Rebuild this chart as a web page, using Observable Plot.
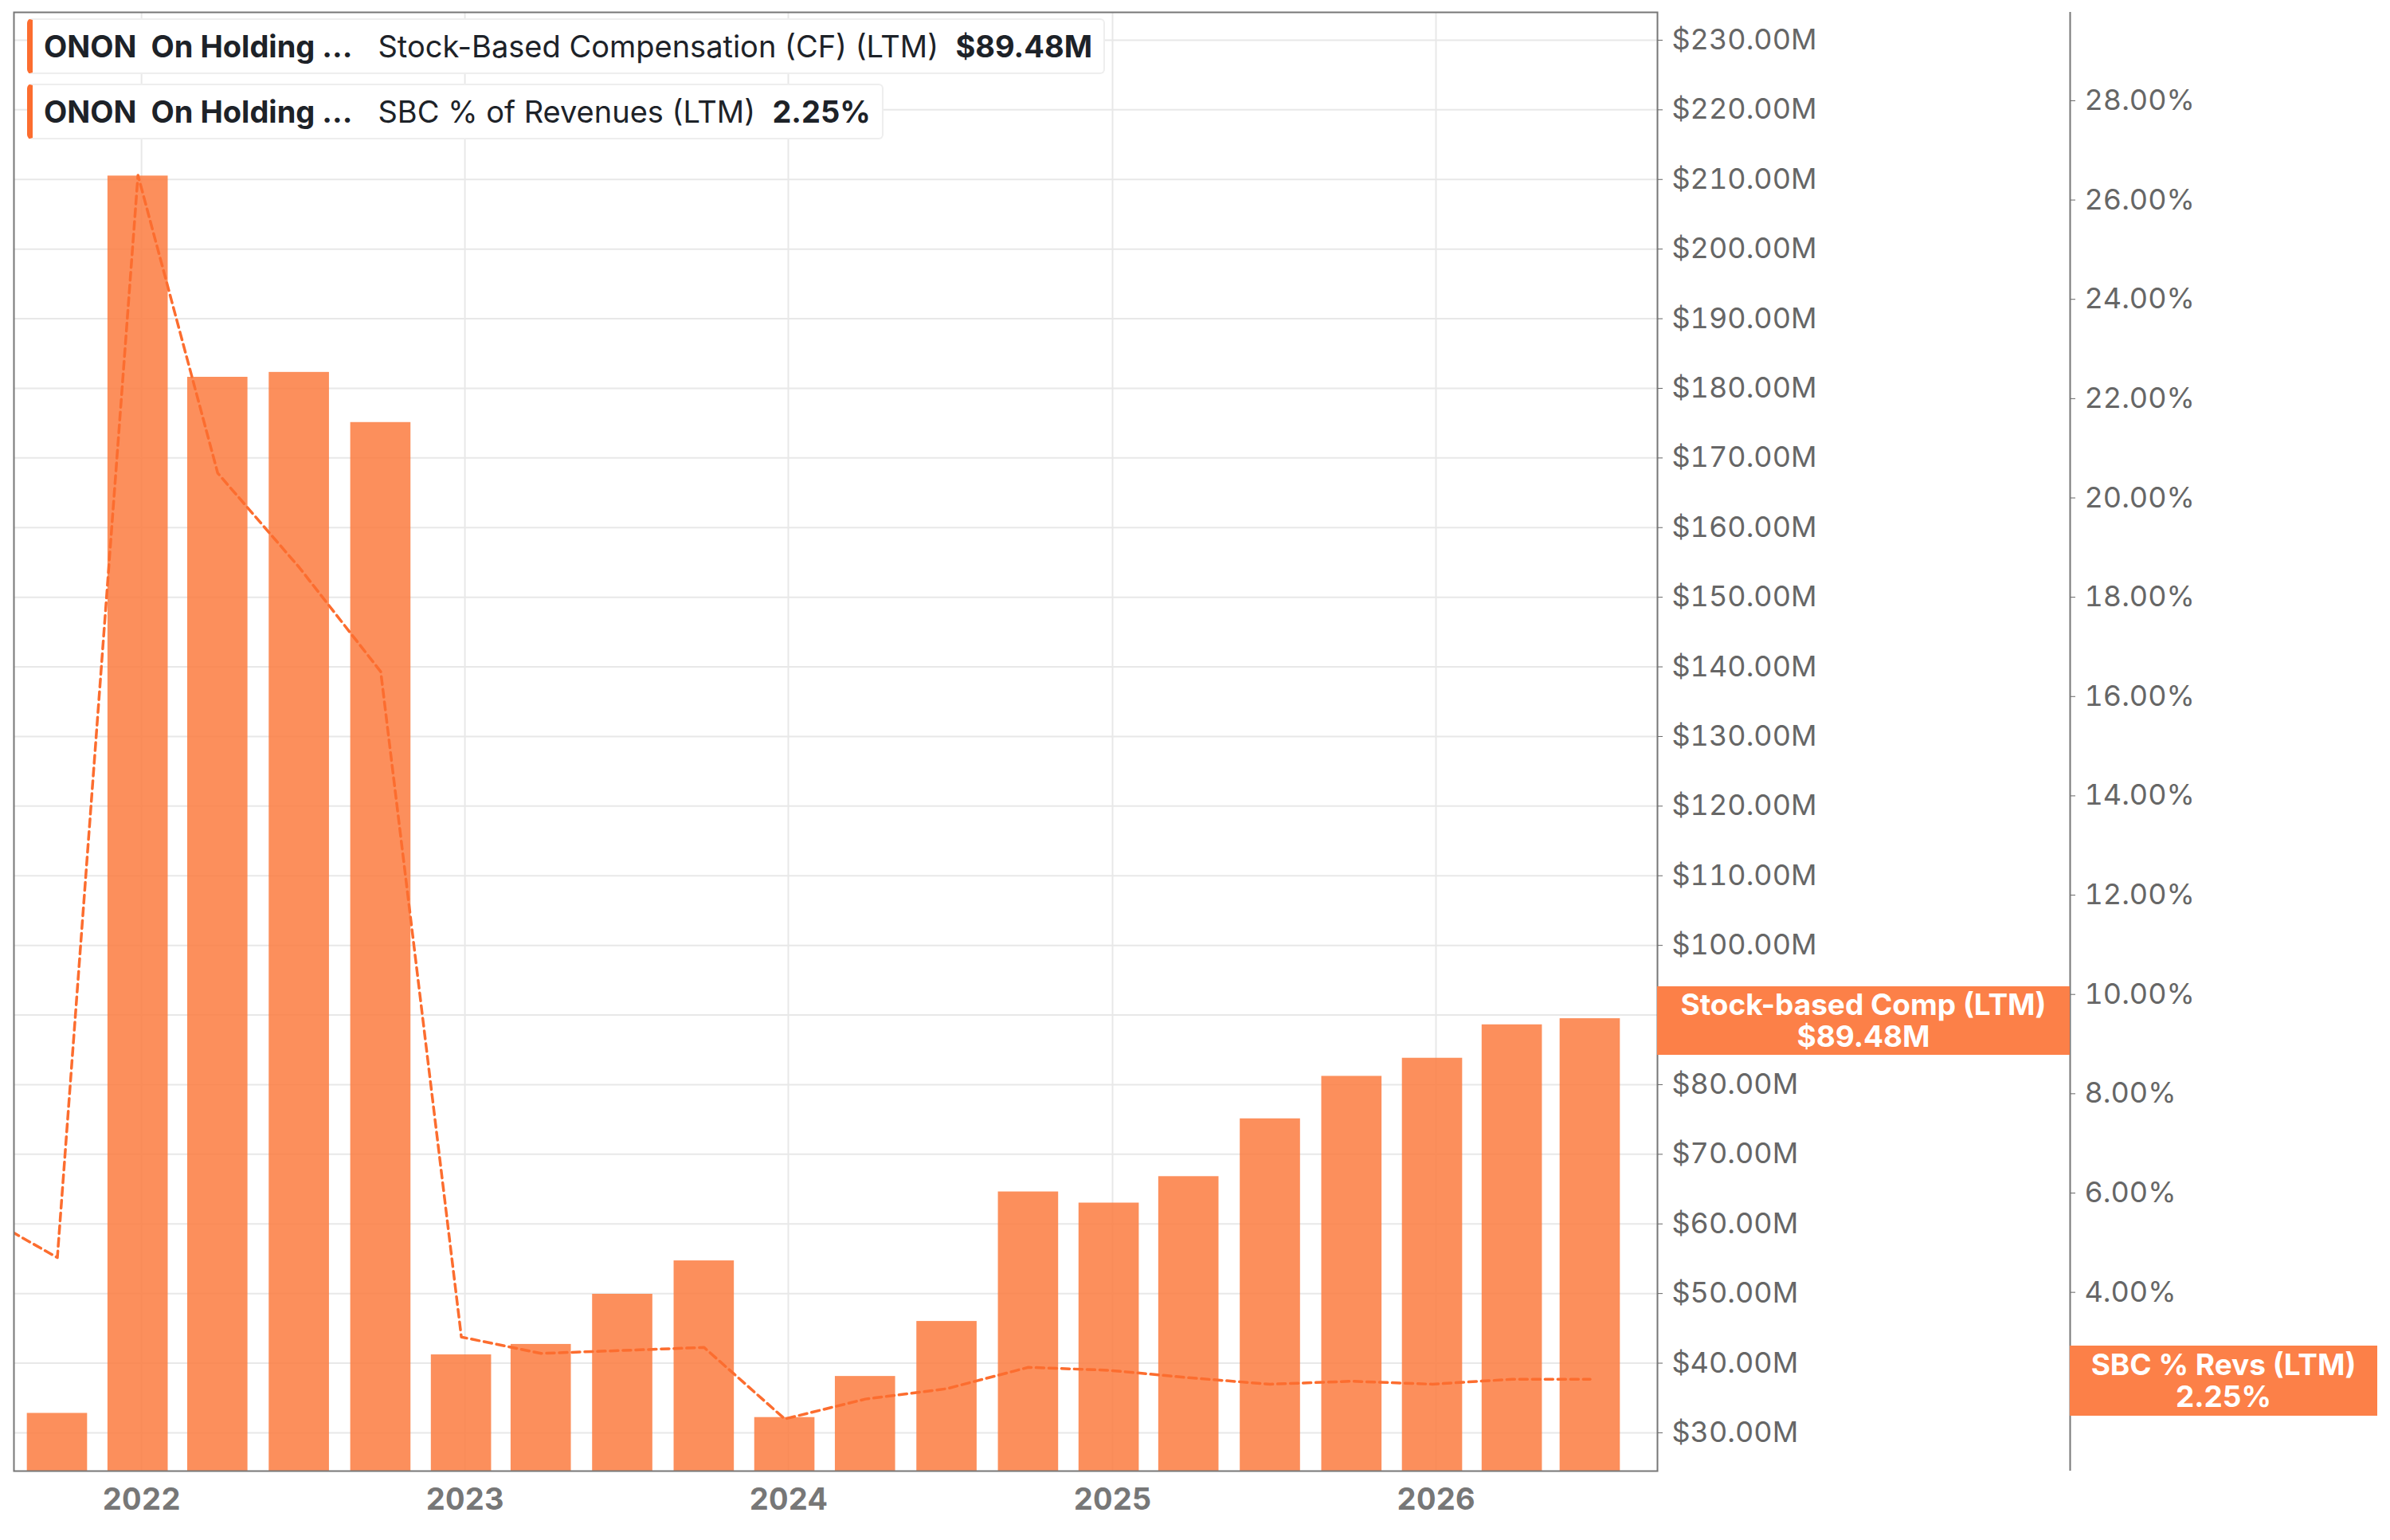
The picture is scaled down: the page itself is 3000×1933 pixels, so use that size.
<!DOCTYPE html>
<html><head><meta charset="utf-8">
<script src="https://cdn.jsdelivr.net/npm/d3@7"></script>
<script src="https://cdn.jsdelivr.net/npm/@observablehq/plot@0.6"></script>
<style>
body{margin:0;background:#fff;font-family:Inter,"Noto Sans",sans-serif;}
#wrap{position:relative;width:3000px;height:1933px;}
.leg{position:absolute;left:34px;height:70px;border:2px solid #eee;border-left:7px solid #fc6d2f;border-radius:6px;background:#fff;font-size:38px;color:#1d2228;display:flex;align-items:center;padding:0 14px;white-space:pre;box-sizing:border-box;}
.lab{position:absolute;background:#fc8048;color:#fff;font-weight:700;font-size:37px;text-align:center;line-height:40px;display:flex;flex-direction:column;justify-content:center;}
</style></head><body>
<div id="wrap"></div>
<script>
const quarters = ["2021-07-01","2021-09-28","2021-12-28","2022-03-28","2022-06-28","2022-09-28","2022-12-28","2023-03-28","2023-06-28","2023-09-28","2023-12-28","2024-03-28","2024-06-28","2024-09-28","2024-12-28","2025-03-28","2025-06-28","2025-09-28","2025-12-28","2026-03-28","2026-06-24"];
const sbc = [null,32.8,210.5,181.6,182.3,175.1,41.2,42.7,49.9,54.7,32.2,38.1,46.0,64.6,63.0,66.8,75.1,81.2,83.8,88.6,89.48];
const sbcPct = [5.6,4.70,26.5,20.5,18.6,16.5,3.10,2.77,2.83,2.89,1.45,1.85,2.06,2.49,2.43,2.28,2.15,2.21,2.15,2.25,2.25];
const leftTicks = d3.range(30,231,10);
const rightTicks = d3.range(2,29,2);
const years = ["2022","2023","2024","2025","2026"];

const yDom = [24.5,234], pDom = [0.40,29.78];
const toY = p => yDom[0] + (p - pDom[0]) * (yDom[1]-yDom[0])/(pDom[1]-pDom[0]);
const bars = quarters.map((q,i)=>({date:new Date(q), v:sbc[i]})).filter(d=>d.v!=null);
const line = quarters.map((q,i)=>({date:new Date(q), v:toY(sbcPct[i])}));
const xDom = [new Date("2021-08-10"), new Date("2026-09-08")];
const yearDates = years.map(y=>new Date(y+"-01-01"));
const half = 1000*60*60*24*34;

const chart = Plot.plot({
  width:3000, height:1933,
  marginLeft:17, marginTop:15, marginBottom:87, marginRight:920,
  style:{fontFamily:"Inter, sans-serif", background:"#fff"},
  x:{type:"time", domain:xDom, label:null},
  y:{domain:yDom, label:null},
  marks:[
    Plot.gridY(leftTicks,{stroke:"#e8e8e8", strokeOpacity:1, strokeWidth:2}),
    Plot.gridX(yearDates,{stroke:"#e8e8e8", strokeOpacity:1, strokeWidth:2}),
    Plot.rect(bars,{x1:d=>new Date(+d.date-half), x2:d=>new Date(+d.date+half), y1:yDom[0], y2:"v", fill:"#fc7b3f", fillOpacity:0.85, clip:true}),
    Plot.line(line,{x:"date", y:"v", stroke:"#fc6d2f", strokeWidth:3.5, strokeDasharray:"10,6", clip:true}),
    Plot.frame({stroke:"#777", strokeWidth:2}),
    Plot.axisY(leftTicks,{anchor:"right", label:null, tickFormat:d=>"$"+d.toFixed(2)+"M", fontSize:36, fill:"#666", color:"#666", tickSize:6, tickPadding:12}),
    Plot.ruleX([xDom[1]],{dx:518, stroke:"#777", strokeWidth:2}),
    Plot.axisY(rightTicks.map(toY),{anchor:"right", label:null, dx:518, tickFormat:d=>{const p=pDom[0]+(d-yDom[0])*(pDom[1]-pDom[0])/(yDom[1]-yDom[0]);return p.toFixed(2)+"%";}, fontSize:36, fill:"#666", color:"#666", tickSize:6, tickPadding:12}),
    Plot.axisX(yearDates,{label:null, tickFormat:d3.utcFormat("%Y"), fontSize:38, fontWeight:700, fill:"#777", tickSize:0, tickPadding:22})
  ]
});
const wrap = document.getElementById("wrap");
wrap.appendChild(chart);
wrap.insertAdjacentHTML("beforeend",`
<div class="leg" style="top:23px"><b>ONON  On Holding ...</b>   Stock-Based Compensation (CF) (LTM)  <b>$${sbc[sbc.length-1].toFixed(2)}M</b></div>
<div class="leg" style="top:105px"><b>ONON  On Holding ...</b>   SBC % of Revenues (LTM)  <b>${sbcPct[sbcPct.length-1].toFixed(2)}%</b></div>
<div class="lab" style="left:2080px;top:1238px;width:518px;height:86px"><div>Stock-based Comp (LTM)</div><div>$${sbc[sbc.length-1].toFixed(2)}M</div></div>
<div class="lab" style="left:2598px;top:1689px;width:386px;height:88px"><div>SBC % Revs (LTM)</div><div>${sbcPct[sbcPct.length-1].toFixed(2)}%</div></div>
`);
</script>
</body></html>
